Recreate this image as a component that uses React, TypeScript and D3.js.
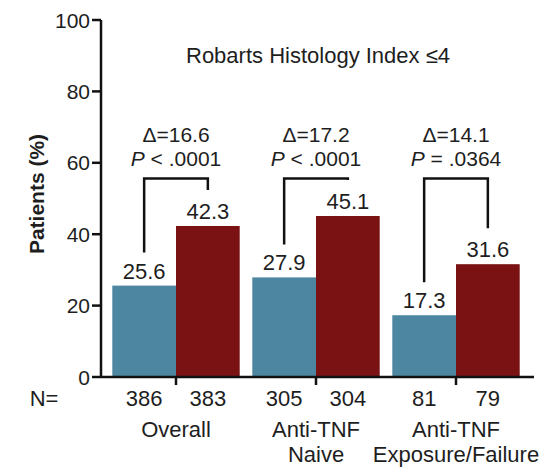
import React from 'react';
import * as d3 from 'd3';

const groups = ['Overall', 'Anti-TNF Naive', 'Anti-TNF Exposure/Failure'];
const groupLines = [['Overall'], ['Anti-TNF', 'Naive'], ['Anti-TNF', 'Exposure/Failure']];
const series = ['placebo', 'active'];
const placebo = [25.6, 27.9, 17.3];
const active = [42.3, 45.1, 31.6];
const nPlacebo = [386, 305, 81];
const nActive = [383, 304, 79];
const deltas = ['Δ=16.6', 'Δ=17.2', 'Δ=14.1'];
const pOps = ['<', '<', '='];
const pVals = ['.0001', '.0001', '.0364'];
const yTicks = [0, 20, 40, 60, 80, 100];

const colors: Record<string, string> = { placebo: '#4c86a1', active: '#7a1214' };
const font = 'Liberation Sans, Arial, Helvetica, sans-serif';
const ink = '#1e1e1e';

export default function App() {
  const width = 542;
  const height = 468;
  const axisX = 101;
  const axisRight = 534;

  const y = d3.scaleLinear().domain([0, 100]).range([377, 20]);
  const x0 = d3.scaleBand<string>().domain(groups).range([106, 526]).paddingInner(0.09).paddingOuter(0.045);
  const x1 = d3.scaleBand<string>().domain(series).range([0, x0.bandwidth()]);

  const bracketTop = y(55.6);

  return (
    <svg width={width} height={height} style={{ position: 'absolute', left: 0, top: 0, background: '#fff' }} fontFamily={font}>
      <text x={318} y={63} textAnchor="middle" fontSize={22} fill={ink}>Robarts Histology Index ≤4</text>

      {/* bars */}
      {groups.map((g, i) => {
        const vals = [placebo[i], active[i]];
        return series.map((s, j) => (
          <rect key={g + s} x={x0(g)! + x1(s)!} y={y(vals[j])} width={x1.bandwidth()}
            height={y(0) - y(vals[j])} fill={colors[s]} />
        ));
      })}

      {/* value labels */}
      {groups.map((g, i) => {
        const vals = [placebo[i], active[i]];
        return series.map((s, j) => (
          <text key={'v' + g + s} x={x0(g)! + x1(s)! + x1.bandwidth() / 2} y={y(vals[j]) - 7}
            textAnchor="middle" fontSize={22} fill={ink}>{vals[j].toFixed(1)}</text>
        ));
      })}

      {/* brackets and stats */}
      {groups.map((g, i) => {
        const xl = x0(g)! + x1('placebo')! + x1.bandwidth() / 2;
        const xr = x0(g)! + x1('active')! + x1.bandwidth() / 2;
        const cx = x0(g)! + x0.bandwidth() / 2;
        const yl = y(placebo[i]) - 33;
        const yr = y(active[i]) - 36;
        return (
          <g key={'b' + g}>
            <path d={`M${xl},${yl}V${bracketTop}H${xr}V${yr}`} fill="none" stroke="#111" strokeWidth={2.5} />
            <text x={cx} y={142} textAnchor="middle" fontSize={21} fill={ink}>{deltas[i]}</text>
            <text x={cx} y={166} textAnchor="middle" fontSize={21} fill={ink}>
              <tspan fontStyle="italic">P</tspan> {pOps[i]} {pVals[i]}
            </text>
          </g>
        );
      })}

      {/* y axis */}
      <line x1={axisX} x2={axisX} y1={y(100)} y2={y(0)} stroke="#111" strokeWidth={2.5} />
      {yTicks.map(t => (
        <g key={'t' + t}>
          <line x1={axisX - 9} x2={axisX} y1={y(t)} y2={y(t)} stroke="#111" strokeWidth={2.5} />
          <text x={axisX - 11} y={y(t) + 7.5} textAnchor="end" fontSize={21} fill={ink}>{t}</text>
        </g>
      ))}
      <text transform={`translate(44,194) rotate(-90)`} textAnchor="middle" fontSize={21} fontWeight="bold" fill={ink}>Patients (%)</text>

      {/* x axis */}
      <line x1={axisX} x2={axisRight} y1={y(0)} y2={y(0)} stroke="#111" strokeWidth={2.5} />
      {groups.map(g => (
        <line key={'xt' + g} x1={x0(g)! + x0.bandwidth() / 2} x2={x0(g)! + x0.bandwidth() / 2}
          y1={y(0)} y2={y(0) + 8} stroke="#111" strokeWidth={2.5} />
      ))}
      <text x={44} y={406} textAnchor="middle" fontSize={22} fill={ink}>N=</text>
      {groups.map((g, i) => {
        const ns = [nPlacebo[i], nActive[i]];
        return series.map((s, j) => (
          <text key={'n' + g + s} x={x0(g)! + x1(s)! + x1.bandwidth() / 2} y={406}
            textAnchor="middle" fontSize={22} fill={ink}>{ns[j]}</text>
        ));
      })}
      {groups.map((g, i) => groupLines[i].map((ln, k) => (
        <text key={'g' + g + k} x={x0(g)! + x0.bandwidth() / 2} y={437 + k * 25}
          textAnchor="middle" fontSize={22} fill={ink}>{ln}</text>
      )))}
    </svg>
  );
}
